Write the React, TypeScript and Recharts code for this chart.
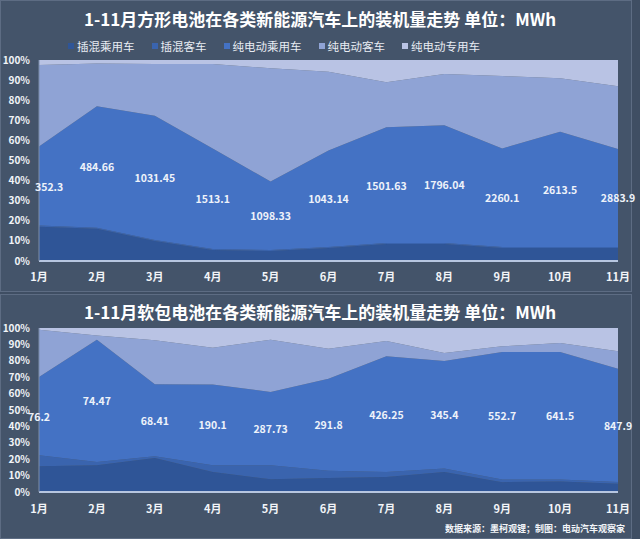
import React from 'react';
import { ComposedChart, Area, Line, XAxis, YAxis, LabelList, Legend } from 'recharts';

const months = ['1月', '2月', '3月', '4月', '5月', '6月', '7月', '8月', '9月', '10月', '11月'];

// 方形电池 shares (%)
const sqPhevCar = [17, 16, 10, 5.5, 5, 6.5, 8.5, 8.5, 6.5, 6.5, 6.5];
const sqPhevBus = [0.6, 0.6, 0.5, 0.5, 0.5, 0.5, 0.5, 0.5, 0.5, 0.5, 0.5];
const sqBevCar = [39.4, 60.4, 61.8, 50, 34, 48, 57.5, 58.5, 49, 57.3, 48.7];
const sqBevBus = [40.5, 21.3, 25.7, 42, 56.4, 39.2, 22.4, 25.5, 36, 26.6, 31.3];
const sqBevSpecial = [2.5, 1.7, 2, 2, 4.1, 5.8, 11.1, 7, 8, 9.1, 13];
const sqLabels = ['352.3', '484.66', '1031.45', '1513.1', '1098.33', '1043.14', '1501.63', '1796.04', '2260.1', '2613.5', '2883.9'];

// 软包电池 shares (%)
const pcPhevCar = [15.7, 16.3, 20.7, 12.2, 7.7, 8.5, 9.1, 12.2, 6, 6.4, 5];
const pcPhevBus = [6.7, 2, 1.1, 4.1, 8.6, 4.5, 3.1, 2.1, 1.6, 1.2, 1.1];
const pcBevCar = [47.7, 74.6, 43.9, 49.2, 44.7, 56.1, 70.5, 65.6, 77.8, 77.8, 69.1];
const pcBevBus = [28.9, 2.6, 26.8, 22.5, 31.9, 18.3, 9.4, 4.9, 3.4, 5.5, 10.6];
const pcBevSpecial = [1, 4.5, 7.5, 12, 7.1, 12.6, 7.9, 15.2, 11.2, 9.1, 14.2];
const pcLabels = ['76.2', '74.47', '68.41', '190.1', '287.73', '291.8', '426.25', '345.4', '552.7', '641.5', '847.9'];

const yTicks = [0, 10, 20, 30, 40, 50, 60, 70, 80, 90, 100];

const series = [
  { key: 'phevCar', name: '插混乘用车', color: '#2f5597' },
  { key: 'phevBus', name: '插混客车', color: '#3a64ae' },
  { key: 'bevCar', name: '纯电动乘用车', color: '#4472c4' },
  { key: 'bevBus', name: '纯电动客车', color: '#8fa3d5' },
  { key: 'bevSpecial', name: '纯电动专用车', color: '#b9c3e4' },
];

const build = (a: number[], b: number[], c: number[], d: number[], e: number[], labels: string[]) =>
  months.map((m, i) => ({
    month: m,
    phevCar: a[i],
    phevBus: b[i],
    bevCar: c[i],
    bevBus: d[i],
    bevSpecial: e[i],
    mid: a[i] + b[i] + c[i] / 2,
    label: labels[i],
  }));

const sqData = build(sqPhevCar, sqPhevBus, sqBevCar, sqBevBus, sqBevSpecial, sqLabels);
const pcData = build(pcPhevCar, pcPhevBus, pcBevCar, pcBevBus, pcBevSpecial, pcLabels);

const FONT = '"Noto Sans CJK SC", "Noto Sans", sans-serif';

const LegendContent = () => (
  <div style={{ display: 'flex', alignItems: 'center', paddingLeft: 68, fontFamily: FONT, fontSize: 11.5, color: '#e8ecf3' }}>
    {series.map((s) => (
      <div key={s.key} style={{ display: 'flex', alignItems: 'center', marginRight: 17 }}>
        <span style={{ display: 'inline-block', width: 6, height: 6, background: s.color, marginRight: 3 }} />
        <span>{s.name}</span>
      </div>
    ))}
  </div>
);

const makeLabel = (shiftFirst: boolean) => (p: any) => {
  const first = shiftFirst && p.index === 0;
  return (
    <text
      x={first ? p.x - 4 : p.x}
      y={p.y}
      textAnchor={first ? 'start' : 'middle'}
      dominantBaseline="central"
      fill="#eef2fa"
      fontFamily={FONT}
      fontWeight="bold"
      fontSize={10.5}
    >
      {p.value}
    </text>
  );
};

type PanelProps = {
  data: any[];
  height: number;
  margin: { top: number; right: number; left: number; bottom: number };
  legend: boolean;
  xTickMargin: number;
  shiftFirst: boolean;
};

const StackChart = ({ data, height, margin, legend, xTickMargin, shiftFirst }: PanelProps) => (
  <ComposedChart width={640} height={height} data={data} margin={margin}>
    <XAxis
      dataKey="month"
      scale="point"
      padding={{ left: 0, right: 0 }}
      height={30}
      tickLine={false}
      tickSize={0}
      tickMargin={xTickMargin}
      axisLine={{ stroke: '#b7c6e0', strokeWidth: 2 }}
      tick={{ fill: '#f2f4f8', fontSize: 11, fontWeight: 'bold', fontFamily: FONT }}
      interval={0}
    />
    <YAxis
      width={39}
      domain={[0, 100]}
      ticks={yTicks}
      allowDataOverflow
      tickFormatter={(v: number) => `${v}%`}
      tickLine={false}
      tickSize={0}
      tickMargin={9}
      axisLine={{ stroke: '#7d8eab', strokeWidth: 1 }}
      tick={{ fill: '#f2f4f8', fontSize: 10, fontWeight: 'bold', fontFamily: FONT }}
    />
    {legend && (
      <Legend
        layout="horizontal"
        verticalAlign="middle"
        align="center"
        content={LegendContent}
        wrapperStyle={{ top: 38, left: 0, width: 640 }}
      />
    )}
    {series.map((s) => (
      <Area
        key={s.key}
        type="linear"
        dataKey={s.key}
        name={s.name}
        stackId="a"
        stroke="none"
        fill={s.color}
        fillOpacity={1}
        isAnimationActive={false}
        activeDot={false}
      />
    ))}
    <Line
      type="linear"
      dataKey="mid"
      stroke="none"
      dot={false}
      activeDot={false}
      legendType="none"
      isAnimationActive={false}
    >
      <LabelList dataKey="label" content={makeLabel(shiftFirst)} />
    </Line>
  </ComposedChart>
);

const titleStyle: React.CSSProperties = {
  position: 'absolute',
  left: 0,
  width: 640,
  textAlign: 'center',
  color: '#ffffff',
  fontFamily: FONT,
  fontWeight: 'bold',
  fontSize: 17,
  lineHeight: '20px',
};

export default function App() {
  return (
    <div style={{ position: 'absolute', left: 0, top: 0, width: 640, height: 539, background: '#3f4e63', overflow: 'hidden' }}>
      <div style={{ position: 'absolute', left: 0, top: 0, width: 630, height: 290, background: '#44546a', border: '1px solid #5d6c83' }} />
      <div style={{ position: 'absolute', left: 0, top: 294, width: 630, height: 243, background: '#44546a', border: '1px solid #5d6c83' }} />
      <div style={{ ...titleStyle, top: 9 }}>1-11月方形电池在各类新能源汽车上的装机量走势 单位：MWh</div>
      <div style={{ position: 'absolute', left: 0, top: 0 }}>
        <StackChart data={sqData} height={292} margin={{ top: 60, right: 22, left: 0, bottom: 1 }} legend xTickMargin={12} shiftFirst />
      </div>
      <div style={{ ...titleStyle, top: 302 }}>1-11月软包电池在各类新能源汽车上的装机量走势 单位：MWh</div>
      <div style={{ position: 'absolute', left: 0, top: 295 }}>
        <StackChart data={pcData} height={244} margin={{ top: 33, right: 22, left: 0, bottom: 17 }} legend={false} xTickMargin={13} shiftFirst={false} />
      </div>
      <div
        style={{
          position: 'absolute',
          right: 15,
          top: 523,
          color: '#f2f4f8',
          fontFamily: FONT,
          fontWeight: 'bold',
          fontSize: 9,
          lineHeight: '12px',
        }}
      >
        数据来源：墨柯观锂；制图：电动汽车观察家
      </div>
    </div>
  );
}
